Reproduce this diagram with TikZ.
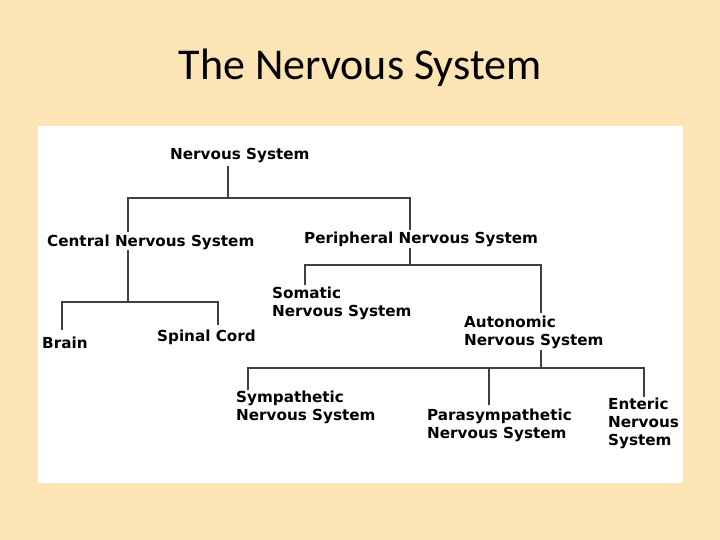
\documentclass[tikz,border=0pt]{standalone}
\usepackage{fontspec}
\setmainfont{Carlito}
\newfontfamily\boxfont{DejaVu Sans}
\begin{document}
\begin{tikzpicture}[x=1pt,y=-1pt,
  lbl/.style={anchor=west,inner sep=0pt,font=\boxfont\bfseries\fontsize{15.2}{18}\selectfont,align=left,text=black},
  ln/.style={draw=black!75,line width=1.5pt}]
\fill[fill={rgb,255:red,252;green,228;blue,180}] (0,0) rectangle (720,540);
\useasboundingbox (0,0) rectangle (720,540);
\node[inner sep=0pt,font=\fontsize{44}{50}\selectfont] (title) at (360,68) {The Nervous System};
\fill[white] (38,126) rectangle (683,483);
\node[lbl] (ns) at (170,156) {Nervous System};
\node[lbl] (cns) at (47,242) {Central Nervous System};
\node[lbl] (pns) at (304,239) {Peripheral Nervous System};
\node[lbl] (brain) at (42,343) {Brain};
\node[lbl] (sc) at (157,337) {Spinal Cord};
\node[lbl] (som) at (272,303) {Somatic\\Nervous System};
\node[lbl] (aut) at (464,332) {Autonomic\\Nervous System};
\node[lbl] (sym) at (236,407) {Sympathetic\\Nervous System};
\node[lbl] (par) at (427,425) {Parasympathetic\\Nervous System};
\node[lbl] (ent) at (608,423) {Enteric\\Nervous\\System};
\coordinate (j1) at (228,198);
\coordinate (j2) at (128,302);
\coordinate (j3) at (410,265);
\coordinate (j4) at (541,368);
\draw[ln] (228,166) -- (j1);
\draw[ln] (128,232) -- (128,198) -- (410,198) -- (410,230);
\draw[ln] (128,250) -- (j2);
\draw[ln] (62,330) -- (62,302) -- (218,302) -- (218,325);
\draw[ln] (410,248) -- (j3);
\draw[ln] (305,285) -- (305,265) -- (541,265) -- (541,313);
\draw[ln] (541,350) -- (j4);
\draw[ln] (248,390) -- (248,368) -- (644,368) -- (644,397);
\draw[ln] (489,368) -- (489,405);
\end{tikzpicture}
\end{document}
